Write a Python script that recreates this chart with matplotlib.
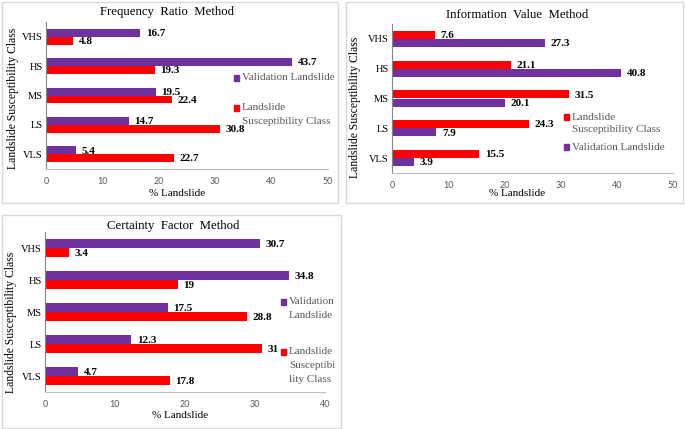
import numpy as np
import matplotlib
matplotlib.use("Agg")
import matplotlib.pyplot as plt
from matplotlib.patches import Rectangle

# categories, top to bottom
classes = ["VHS", "HS", "MS", "LS", "VLS"]

# Frequency Ratio Method
fr_valid = [16.7, 43.7, 19.5, 14.7, 5.4]
fr_lsc = [4.8, 19.3, 22.4, 30.8, 22.7]

# Information Value Method
iv_lsc = [7.6, 21.1, 31.5, 24.3, 15.5]
iv_valid = [27.3, 40.8, 20.1, 7.9, 3.9]

# Certainty Factor Method
cf_valid = [30.7, 34.8, 17.5, 12.3, 4.7]
cf_lsc = [3.4, 19, 28.8, 31, 17.8]

PURPLE = "#7030A0"
RED = "#FF0000"
GREY = "#595959"
SERIF = "Liberation Serif"

W, H = 685, 429
fig = plt.figure(figsize=(W / 100, H / 100), dpi=100)


def fx(px):
    return px / W


def fy(py):
    return 1 - py / H


def add_axes(x0, x1, y0, y1):
    # pixel box -> figure fraction
    return fig.add_axes([fx(x0), fy(y1), fx(x1) - fx(x0), fy(y0) - fy(y1)])


def frame(x0, y0, x1, y1):
    fig.add_artist(Rectangle((fx(x0), fy(y1)), fx(x1) - fx(x0), fy(y0) - fy(y1),
                             transform=fig.transFigure, fill=False,
                             edgecolor="#d9d9d9", linewidth=1.0))


def draw_panel(ax, top_vals, top_color, bot_vals, bot_color, xmax):
    y = np.arange(len(classes))
    h = 0.27
    b1 = ax.barh(y - h / 2, top_vals, height=h, color=top_color)
    b2 = ax.barh(y + h / 2, bot_vals, height=h, color=bot_color)
    for bars, vals in ((b1, top_vals), (b2, bot_vals)):
        for bar, v in zip(bars, vals):
            ax.annotate(f"{v:g}", (v, bar.get_y() + bar.get_height() / 2),
                        xytext=(4, -0.5), textcoords="offset points",
                        va="center", ha="left", fontsize=8,
                        fontweight="bold", family=SERIF)
    ax.set_ylim(len(classes) - 0.5, -0.5)
    ax.set_xlim(0, xmax)
    ax.set_xticks(np.arange(0, xmax + 1, 10))
    ax.set_yticks(y)
    ax.set_yticklabels(classes, family=SERIF, fontsize=7.5)
    for lab in ax.get_xticklabels():
        lab.set_family("Lato")
        lab.set_fontsize(6.5)
        lab.set_color(GREY)
    ax.tick_params(length=0, pad=2.5)
    ax.tick_params(axis="x", pad=5.5)
    for s in ("top", "right"):
        ax.spines[s].set_visible(False)
    ax.spines["left"].set_color("#868686")
    ax.spines["bottom"].set_color("#bfbfbf")
    ax.spines["left"].set_linewidth(0.8)
    ax.spines["bottom"].set_linewidth(0.8)


def legend_entry(x, y, color, lines, step):
    fig.add_artist(Rectangle((fx(x - 2.5), fy(y + 2.5)), fx(5.5), 5.5 / H,
                             transform=fig.transFigure, color=color))
    for i, line in enumerate(lines):
        fig.text(fx(x + 6), fy(y + i * step), line, va="center", ha="left",
                 fontsize=8, family=SERIF, color=GREY)


# panel frames
frame(2, 2, 338, 203)
frame(346, 2, 683, 203)
frame(2, 215, 341, 428)

# Frequency Ratio Method
ax1 = add_axes(46, 328, 22, 169)
draw_panel(ax1, fr_valid, PURPLE, fr_lsc, RED, 50)
fig.text(fx(167), fy(12), "Frequency  Ratio  Method", ha="center", va="center",
         fontsize=9.2, family=SERIF)
fig.text(fx(13), fy(98), "Landslide Susceptibility Class", rotation=90,
         ha="center", va="center", fontsize=8.4, family=SERIF)
fig.text(fx(177), fy(193), "% Landslide", ha="center", va="center",
         fontsize=8, family=SERIF)
legend_entry(236, 78, PURPLE, ["Validation Landslide"], 13)
legend_entry(236, 108, RED, ["Landslide", "Susceptibility Class"], 13)

# Information Value Method
ax2 = add_axes(392, 673, 24, 173)
draw_panel(ax2, iv_lsc, RED, iv_valid, PURPLE, 50)
fig.text(fx(517), fy(15), "Information  Value  Method", ha="center", va="center",
         fontsize=9.2, family=SERIF)
fig.text(fx(355), fy(107), "Landslide Susceptibility Class", rotation=90,
         ha="center", va="center", fontsize=8.4, family=SERIF)
fig.text(fx(517), fy(194), "% Landslide", ha="center", va="center",
         fontsize=8, family=SERIF)
legend_entry(566, 117, RED, ["Landslide", "Susceptibility Class"], 13)
legend_entry(566, 147, PURPLE, ["Validation Landslide"], 13)

# Certainty Factor Method
ax3 = add_axes(45, 325, 232, 392)
draw_panel(ax3, cf_valid, PURPLE, cf_lsc, RED, 40)
fig.text(fx(173), fy(226), "Certainty  Factor  Method", ha="center", va="center",
         fontsize=9.2, family=SERIF)
fig.text(fx(11), fy(322), "Landslide Susceptibility Class", rotation=90,
         ha="center", va="center", fontsize=8.4, family=SERIF)
fig.text(fx(180), fy(416), "% Landslide", ha="center", va="center",
         fontsize=8, family=SERIF)
legend_entry(283, 302, PURPLE, ["Validation", "Landslide"], 13)
legend_entry(283, 352, RED, ["Landslide", "Susceptibi", "lity Class"], 13.5)

fig.savefig("out.png", dpi=100)
